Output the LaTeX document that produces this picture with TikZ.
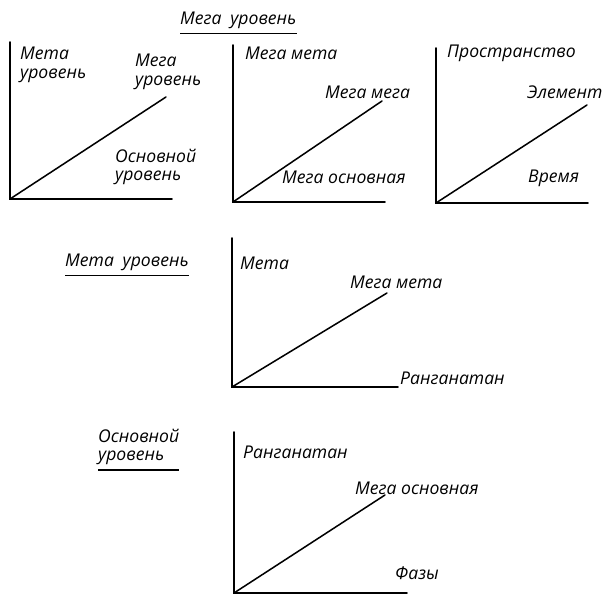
\documentclass[tikz,border=0pt]{standalone}
\usepackage{fontspec}
\setmainfont{Open Sans}
\usetikzlibrary{positioning}

\begin{document}
\begin{tikzpicture}[
            x=0.03cm, y=-0.03cm,
            axis/.style={line width=1.5pt, line cap=round},
            ray/.style={line width=1.3pt, line cap=round},
            lbl/.style={font=\itshape\fontsize{15}{16}\selectfont, inner sep=0pt, anchor=west, align=left},
            uline/.style={line width=1pt}
        ]
        \useasboundingbox (0,0) rectangle (603,598);

        % --- AXES ---
        \coordinate (O1) at (10,199);  \coordinate (Y1) at (10,42);   \coordinate (X1) at (172,199); \coordinate (D1) at (166,97);
        \coordinate (O2) at (233,202); \coordinate (Y2) at (233,45);  \coordinate (X2) at (385,202); \coordinate (D2) at (382,101);
        \coordinate (O3) at (436,203); \coordinate (Y3) at (436,48);  \coordinate (X3) at (588,203); \coordinate (D3) at (587,105);
        \coordinate (O4) at (232,387); \coordinate (Y4) at (232,238); \coordinate (X4) at (398,387); \coordinate (D4) at (387,293);
        \coordinate (O5) at (234,593); \coordinate (Y5) at (234,432); \coordinate (X5) at (407,593); \coordinate (D5) at (385,495);

        \foreach \i in {1,...,5} {
                \draw[axis] (Y\i) -- (O\i) -- (X\i);
                \draw[ray] (O\i) -- (D\i);
            }

        % --- TITRE ---
        \node[lbl] (hdr) at (180,20) {Мега\hspace{0.5em}уровень};
        \draw[uline] ([yshift=-4pt]hdr.south west) -- ([yshift=-4pt]hdr.south east);

        % --- PANNEAU 1 ---
        \node[lbl] (p1y) at (20,65) {Мета\\уровень};
        \node[lbl] (p1d) at (135,72) {Мега\\уровень};
        \node[lbl] (p1x) at (115,167) {Основной\\уровень};

        % --- PANNEAU 2 ---
        \node[lbl] (p2y) at (245,53) {Мега мета};
        \node[lbl] (p2d) at (325,92) {Мега мега};
        \node[lbl] (p2x) at (282,177) {Мега основная};

        % --- PANNEAU 3 ---
        \node[lbl] (p3y) at (447,53) {Пространство};
        \node[lbl] (p3d) at (527,92) {Элемент};
        \node[lbl] (p3x) at (528,178) {Время};

        % --- META ---
        \node[lbl] (meta) at (65,262) {Мета\hspace{0.5em}уровень};
        \draw[uline] ([yshift=-4pt]meta.south west) -- ([yshift=-4pt]meta.south east);
        \node[lbl] (p4y) at (240,263) {Мета};
        \node[lbl] (p4d) at (350,282) {Мега мета};
        \node[lbl] (p4x) at (400,378) {Ранганатан};

        % --- OSNOVNOI ---
        \node[lbl] (osn) at (98,447) {Основной\\уровень};
        \draw[uline] ([yshift=-4pt]osn.south west) -- ([yshift=-4pt]osn.south east);
        \node[lbl] (p5y) at (243,452) {Ранганатан};
        \node[lbl] (p5d) at (355,488) {Мега основная};
        \node[lbl] (p5x) at (395,573) {Фазы};

    \end{tikzpicture}
\end{document}
